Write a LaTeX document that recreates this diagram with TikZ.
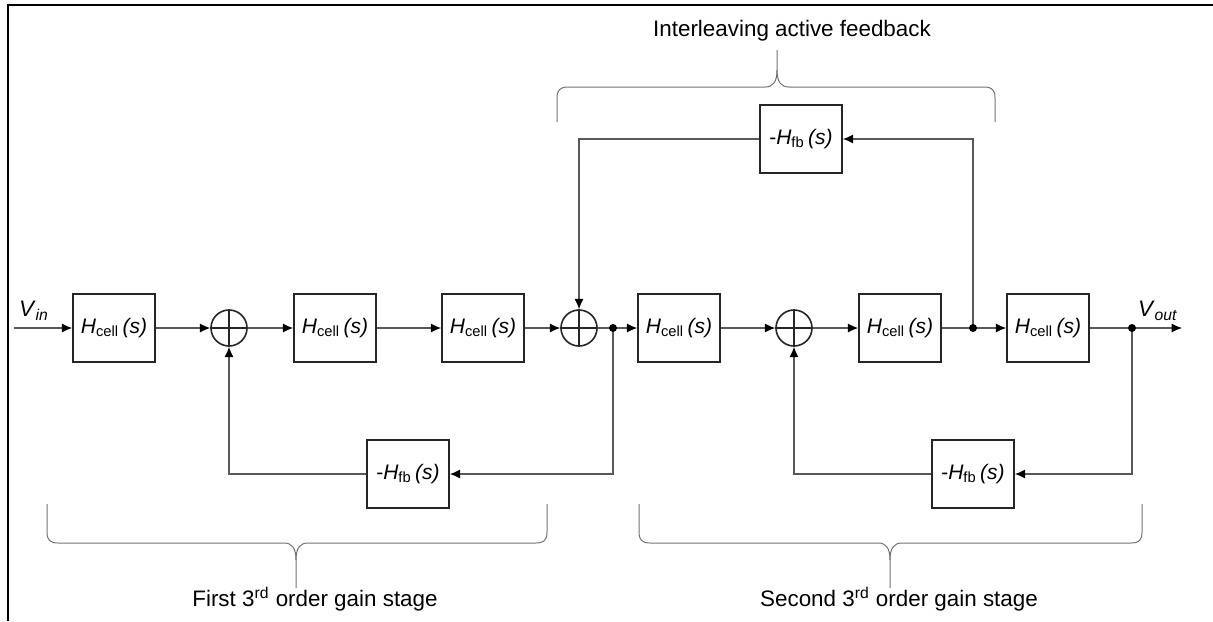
\documentclass[tikz,border=0pt]{standalone}
\usepackage{fontspec}
\setmainfont{Liberation Sans}
\usetikzlibrary{arrows.meta,positioning}
\newcommand{\Hcell}{\textit{H}\textsubscript{cell}\,\textit{(s)}}
\newcommand{\Hfb}{-\textit{H}\textsubscript{fb}\,\textit{(s)}}
\begin{document}
\begin{tikzpicture}[x=0.5pt,y=-0.5pt,font=\fontsize{10.5}{12}\selectfont,
	>={Latex[length=5.2pt,width=4.6pt,color=black]},
	blk/.style={draw=black!85,line width=0.8pt,minimum width=41pt,minimum height=34pt,inner sep=0pt},
	sumc/.style={draw=black!85,line width=0.8pt,circle,minimum size=18pt,inner sep=0pt},
	wire/.style={draw=black!65,line width=0.6pt},
	brc/.style={draw=black!55,line width=0.5pt},
	note/.style={font=\fontsize{11.2}{13}\selectfont}]
	\useasboundingbox (0,0) rectangle (1213,621);
	\draw[line width=1.1pt] (8,621)--(8,5)--(1213,5);
	\path
	%	khối
	(114,328) node[blk] (c1) {\Hcell}
	(229,328) node[sumc] (s1) {}
	(335,328) node[blk] (c2) {\Hcell}
	(483,328) node[blk] (c3) {\Hcell}
	(579,328) node[sumc] (s2) {}
	(679,328) node[blk] (c4) {\Hcell}
	(794,328) node[sumc] (s3) {}
	(900,328) node[blk] (c5) {\Hcell}
	(1048,328) node[blk] (c6) {\Hcell}
	(408,474) node[blk] (f1) {\Hfb}
	(973,474) node[blk] (f2) {\Hfb}
	(801,139) node[blk] (f3) {\Hfb}
	(14,328) coordinate (in)
	(613,328) coordinate (d1)
	(973,328) coordinate (d2)
	(1132,328) coordinate (d3)
	(1182,328) coordinate (out)
	;
	\foreach \s in {s1,s2,s3}\draw[black!85,line width=0.8pt] (\s.north)--(\s.south) (\s.west)--(\s.east);
	%	đường chính
	\foreach \a/\b in {in/c1,c1/s1,s1/c2,c2/c3,c3/s2,s2/c4,c4/s3,s3/c5,c5/c6,c6/out}\draw[wire,->] (\a)--(\b);
	%	hồi tiếp
	\draw[wire,->] (d1)|-(f1);
	\draw[wire,->] (f1)-|(s1);
	\draw[wire,->] (d3)|-(f2);
	\draw[wire,->] (f2)-|(s3);
	\draw[wire,->] (d2)|-(f3);
	\draw[wire,->] (f3)-|(s2);
	\foreach \d in {d1,d2,d3}\fill (\d) circle (4);
	\node[note] (vin) at (34,311) {\textit{V}\textsubscript{\textit{in}}};
	\node[note] (vout) at (1158,311) {\textit{V}\textsubscript{\textit{out}}};
	%	ngoặc
	\foreach \l/\t/\r in {47/296/547,639/890/1142}{
		\draw[brc] (\l,504)--(\l,532) .. controls (\l,540) and ({\l+3},543) .. ({\l+11},543)--({\t-12},543) .. controls ({\t-4},543) and (\t,548) .. (\t,560)--(\t,588);
		\draw[brc] (\t,560) .. controls (\t,548) and ({\t+4},543) .. ({\t+12},543)--({\r-11},543) .. controls ({\r-3},543) and (\r,540) .. (\r,532)--(\r,504);
	}
	\draw[brc] (557,122)--(557,98) .. controls (557,90) and (560,87) .. (568,87)--(765,87) .. controls (773,87) and (777,82) .. (777,70)--(777,50);
	\draw[brc] (777,70) .. controls (777,82) and (781,87) .. (789,87)--(984,87) .. controls (992,87) and (995,90) .. (995,98)--(995,122);
	\node[note] (t1) at (792,31) {Interleaving active feedback};
	\node[note] (t2) at (315,599) {First 3\textsuperscript{rd} order gain stage};
	\node[note] (t3) at (899,599) {Second 3\textsuperscript{rd} order gain stage};
\end{tikzpicture}
\end{document}
